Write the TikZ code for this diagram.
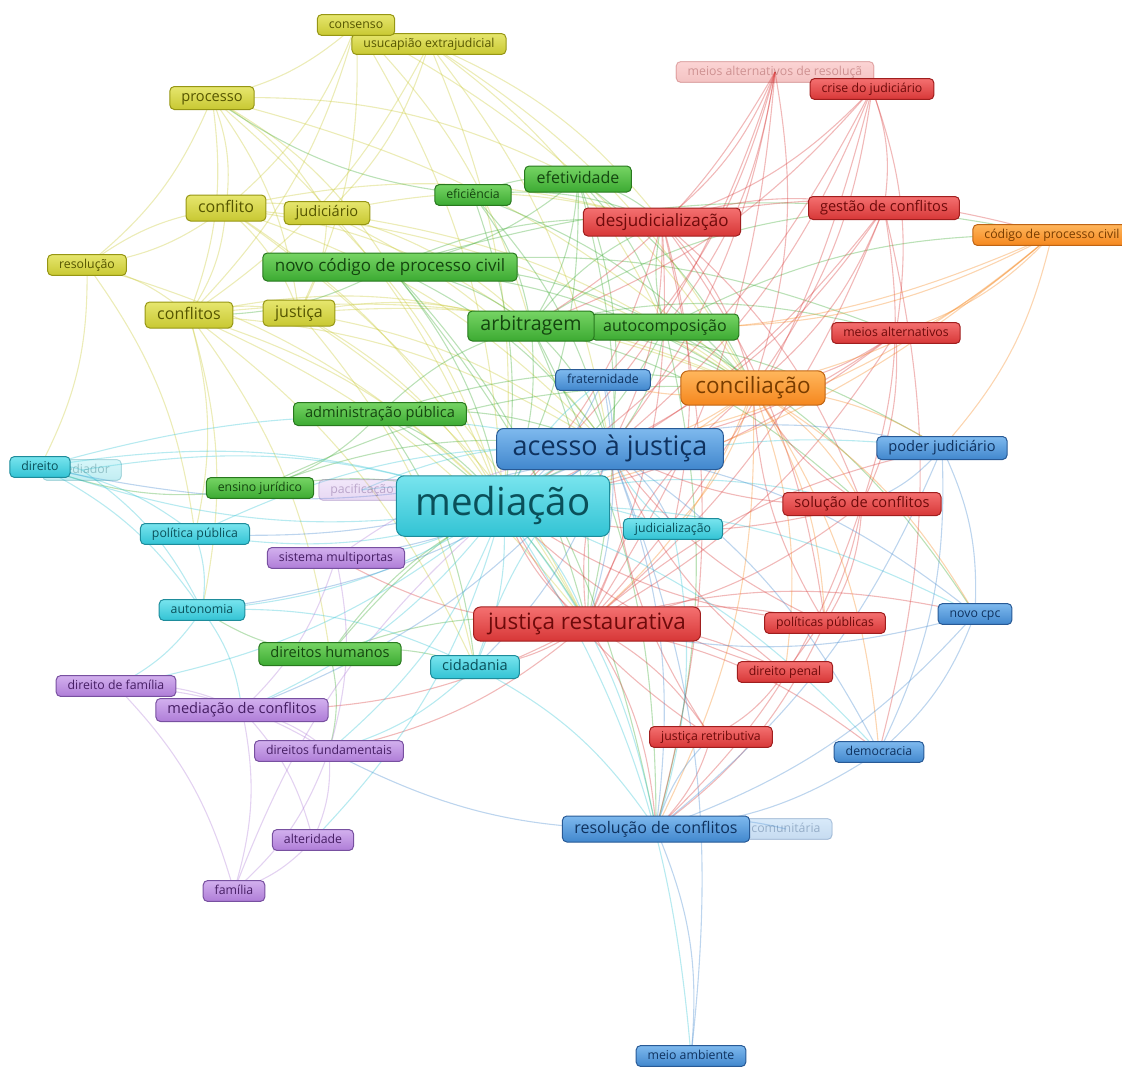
\documentclass[tikz,border=0pt]{standalone}
\usepackage{fontspec}
\setmainfont{Open Sans}
\usetikzlibrary{backgrounds}

\definecolor{ytop}{RGB}{230,230,110}
\definecolor{ybot}{RGB}{200,200,50}
\definecolor{yline}{RGB}{150,150,20}
\definecolor{ytext}{RGB}{85,85,0}
\definecolor{gtop}{RGB}{118,212,100}
\definecolor{gbot}{RGB}{60,170,50}
\definecolor{gline}{RGB}{40,120,30}
\definecolor{gtext}{RGB}{20,70,15}
\definecolor{rtop}{RGB}{244,112,112}
\definecolor{rbot}{RGB}{215,55,55}
\definecolor{rline}{RGB}{160,30,30}
\definecolor{rtext}{RGB}{110,10,10}
\definecolor{otop}{RGB}{255,182,92}
\definecolor{obot}{RGB}{245,135,30}
\definecolor{oline}{RGB}{190,100,20}
\definecolor{otext}{RGB}{120,60,0}
\definecolor{ctop}{RGB}{120,228,238}
\definecolor{cbot}{RGB}{50,195,212}
\definecolor{cline}{RGB}{30,140,155}
\definecolor{ctext}{RGB}{10,80,90}
\definecolor{btop}{RGB}{126,185,238}
\definecolor{bbot}{RGB}{65,135,205}
\definecolor{bline}{RGB}{40,90,150}
\definecolor{btext}{RGB}{15,50,95}
\definecolor{ptop}{RGB}{210,176,238}
\definecolor{pbot}{RGB}{175,125,215}
\definecolor{pline}{RGB}{120,80,160}
\definecolor{ptext}{RGB}{70,30,100}

\tikzset{
  term/.style={draw, line width=1pt, rounded corners=4.5pt},
  yel/.style={term, top color=ytop, bottom color=ybot, draw=yline, text=ytext},
  grn/.style={term, top color=gtop, bottom color=gbot, draw=gline, text=gtext},
  red/.style={term, top color=rtop, bottom color=rbot, draw=rline, text=rtext},
  org/.style={term, top color=otop, bottom color=obot, draw=oline, text=otext},
  cya/.style={term, top color=ctop, bottom color=cbot, draw=cline, text=ctext},
  blu/.style={term, top color=btop, bottom color=bbot, draw=bline, text=btext},
  pur/.style={term, top color=ptop, bottom color=pbot, draw=pline, text=ptext},
  faded/.style={opacity=0.3},
  big/.style={rounded corners=7pt},
  fa/.style={font=\fontsize{12.3}{14}\selectfont, text height=9.2pt, text depth=3.1pt, inner xsep=11.5pt, inner ysep=4.3pt},
  fb/.style={font=\fontsize{14.6}{17}\selectfont, text height=11pt, text depth=3.6pt, inner xsep=11.5pt, inner ysep=4.2pt},
  fc/.style={font=\fontsize{16}{19}\selectfont, text height=12pt, text depth=4pt, inner xsep=12pt, inner ysep=5pt},
  fd/.style={font=\fontsize{17}{20}\selectfont, text height=12.8pt, text depth=4.2pt, inner xsep=12pt, inner ysep=5.5pt},
  fe/.style={font=\fontsize{19.6}{23}\selectfont, text height=14.7pt, text depth=4.9pt, inner xsep=12.5pt, inner ysep=5.2pt},
  ff/.style={font=\fontsize{22.5}{27}\selectfont, text height=16.9pt, text depth=5.6pt, inner xsep=14.5pt, inner ysep=5.8pt},
  fg/.style={font=\fontsize{27}{32}\selectfont, text height=20.3pt, text depth=6.7pt, inner xsep=16pt, inner ysep=7pt},
  fh/.style={font=\fontsize{38.5}{45}\selectfont, text height=28.9pt, text depth=9.6pt, inner xsep=19pt, inner ysep=11pt},
  link/.style={line width=1.1pt, opacity=0.35},
  yedge/.style={link, draw=ybot},
  gedge/.style={link, draw=gbot},
  redge/.style={link, draw=rbot},
  oedge/.style={link, draw=obot},
  cedge/.style={link, draw=cbot},
  bedge/.style={link, draw=bbot},
  pedge/.style={link, draw=pbot}
}

\begin{document}
\begin{tikzpicture}[x=1pt, y=-1pt]
  \useasboundingbox (0,0) rectangle (1122,1066);

  % faded terms sit behind the others
  \node[red, faded, fa] (meiosres) at (775,72) {meios alternativos de resoluçã};
  \node[cya, faded, fa] (mediador) at (82,470) {mediador};
  \node[pur, faded, fa] (pacif) at (362,490) {pacificação};
  \node[blu, faded, fa] (comunit) at (786,829) {comunitária};

  % yellow cluster
  \node[yel, fa] (usucap) at (429,44) {usucapião extrajudicial};
  \node[yel, fa] (consenso) at (356,25) {consenso};
  \node[yel, fb] (processo) at (212,98) {processo};
  \node[yel, fc] (conflito) at (226,208) {conflito};
  \node[yel, fb] (judic) at (327,213) {judiciário};
  \node[yel, fa] (resol) at (87,265) {resolução};
  \node[yel, fc] (conflitos) at (189,315) {conflitos};
  \node[yel, fc] (justica) at (299,313) {justiça};

  % green cluster
  \node[grn, fa] (eficiencia) at (473,195) {eficiência};
  \node[grn, fc] (efetiv) at (578,179) {efetividade};
  \node[grn, fd] (ncpc) at (390,267) {novo código de processo civil};
  \node[grn, fc] (autocomp) at (665,327) {autocomposição};
  \node[grn, fe] (arbitr) at (531,326) {arbitragem};
  \node[grn, fb] (admpub) at (380,414) {administração pública};
  \node[grn, fa] (ensino) at (260,488) {ensino jurídico};
  \node[grn, fb] (dirhum) at (330,654) {direitos humanos};

  % red cluster
  \node[red, fa] (crise) at (872,89) {crise do judiciário};
  \node[red, fd] (desjud) at (662,222) {desjudicialização};
  \node[red, fb] (gestao) at (884,208) {gestão de conflitos};
  \node[red, fa] (meiosalt) at (896,333) {meios alternativos};
  \node[red, fb] (solucao) at (862,504) {solução de conflitos};
  \node[red, ff, big] (jrest) at (587,624) {justiça restaurativa};
  \node[red, fa] (polpub) at (825,623) {políticas públicas};
  \node[red, fa] (dirpenal) at (785,672) {direito penal};
  \node[red, fa] (jretrib) at (711,737) {justiça retributiva};

  % orange cluster
  \node[org, fa] (cpc) at (1052,235) {código de processo civil};
  \node[org, ff, big] (concil) at (753,388) {conciliação};

  % cyan cluster
  \node[cya, fa] (direito) at (40,467) {direito};
  \node[cya, fa] (polpublica) at (195,534) {política pública};
  \node[cya, fa] (judicz) at (673,529) {judicialização};
  \node[cya, fa] (autonomia) at (202,610) {autonomia};
  \node[cya, fb] (cidadania) at (475,667) {cidadania};

  % blue cluster
  \node[blu, fa] (fratern) at (603,380) {fraternidade};
  \node[blu, fg, big] (acesso) at (610,449) {acesso à justiça};
  \node[blu, fb] (poderjud) at (942,448) {poder judiciário};
  \node[blu, fa] (novocpc) at (975,614) {novo cpc};
  \node[blu, fa] (democ) at (879,752) {democracia};
  \node[blu, fc] (rescon) at (656,829) {resolução de conflitos};
  \node[blu, fa] (meioamb) at (691,1056) {meio ambiente};

  % purple cluster
  \node[pur, fa] (sistmulti) at (336,558) {sistema multiportas};
  \node[pur, fa] (dirfam) at (116,686) {direito de família};
  \node[pur, fb] (medconf) at (242,710) {mediação de conflitos};
  \node[pur, fa] (dirfund) at (329,751) {direitos fundamentais};
  \node[pur, fa] (alterid) at (313,840) {alteridade};
  \node[pur, fa] (familia) at (234,891) {família};

  \node[cya, fh, big, rounded corners=8pt] (mediacao) at (503,506) {mediação};

  \begin{pgfonlayer}{background}
    % links, coloured by the term they start from
    \foreach \a/\b in {consenso/conflito, consenso/processo, consenso/mediacao, consenso/conflitos, consenso/arbitr, consenso/concil, consenso/justica,
      usucap/desjud, usucap/mediacao, usucap/judic, usucap/conflitos, usucap/autocomp, usucap/concil, usucap/acesso,
      processo/conflito, processo/conflitos, processo/resol, processo/mediacao, processo/justica, processo/judic, processo/efetiv, processo/ncpc, processo/concil,
      conflito/conflitos, conflito/mediacao, conflito/judic, conflito/justica, conflito/acesso, conflito/arbitr, conflito/concil, conflito/resol, conflito/jrest, conflito/desjud,
      judic/mediacao, judic/acesso, judic/justica, judic/concil, judic/desjud, judic/arbitr,
      resol/conflitos, resol/conflito, resol/mediacao, resol/direito, resol/polpublica,
      conflitos/mediacao, conflitos/justica, conflitos/acesso, conflitos/concil, conflitos/jrest, conflitos/polpublica, conflitos/autonomia, conflitos/arbitr, conflitos/dirhum, conflitos/cidadania,
      justica/mediacao, justica/acesso, justica/jrest, justica/concil, justica/arbitr, justica/cidadania}
      \draw[yedge] (\a.center) to[bend left=14] (\b.center);
    \foreach \a/\b in {eficiencia/mediacao, eficiencia/acesso, eficiencia/efetiv, eficiencia/desjud, eficiencia/concil, eficiencia/arbitr, eficiencia/processo,
      efetiv/mediacao, efetiv/acesso, efetiv/desjud, efetiv/concil, efetiv/autocomp, efetiv/arbitr, efetiv/ncpc, efetiv/jrest,
      ncpc/mediacao, ncpc/concil, ncpc/acesso, ncpc/arbitr, ncpc/autocomp, ncpc/desjud, ncpc/meiosalt, ncpc/cpc, ncpc/rescon, ncpc/jrest, ncpc/conflitos,
      arbitr/mediacao, arbitr/concil, arbitr/acesso, arbitr/autocomp, arbitr/desjud, arbitr/meiosalt, arbitr/solucao, arbitr/rescon, arbitr/jrest, arbitr/poderjud, arbitr/gestao,
      autocomp/mediacao, autocomp/concil, autocomp/acesso, autocomp/desjud, autocomp/cpc, autocomp/rescon, autocomp/novocpc,
      admpub/mediacao, admpub/acesso, admpub/arbitr, admpub/concil, admpub/cidadania, admpub/jrest, admpub/ensino,
      ensino/mediacao, ensino/acesso, ensino/concil, ensino/direito,
      dirhum/mediacao, dirhum/jrest, dirhum/cidadania, dirhum/dirfund, dirhum/acesso, dirhum/autonomia}
      \draw[gedge] (\a.center) to[bend left=14] (\b.center);
    \foreach \a/\b in {meiosres/desjud, meiosres/concil, meiosres/arbitr, meiosres/mediacao, meiosres/acesso, meiosres/jrest, meiosres/autocomp, meiosres/fratern,
      crise/desjud, crise/concil, crise/mediacao, crise/acesso, crise/jrest, crise/arbitr, crise/meiosalt, crise/gestao,
      desjud/mediacao, desjud/concil, desjud/acesso, desjud/jrest, desjud/solucao, desjud/polpub, desjud/rescon, desjud/judicz, desjud/gestao, desjud/cpc,
      gestao/mediacao, gestao/concil, gestao/acesso, gestao/jrest, gestao/solucao, gestao/democ,
      meiosalt/mediacao, meiosalt/concil, meiosalt/acesso, meiosalt/solucao, meiosalt/jrest,
      solucao/mediacao, solucao/concil, solucao/acesso, solucao/jrest, solucao/rescon, solucao/polpub, solucao/dirpenal,
      jrest/mediacao, jrest/acesso, jrest/dirpenal, jrest/jretrib, jrest/polpub, jrest/cidadania, jrest/rescon, jrest/democ, jrest/sistmulti, jrest/medconf, jrest/dirfund, jrest/concil, jrest/novocpc, jrest/poderjud,
      polpub/mediacao, polpub/acesso, polpub/concil, polpub/rescon,
      dirpenal/mediacao, dirpenal/jretrib, dirpenal/acesso,
      jretrib/mediacao, jretrib/acesso, jretrib/rescon}
      \draw[redge] (\a.center) to[bend left=14] (\b.center);
    \foreach \a/\b in {cpc/concil, cpc/mediacao, cpc/acesso, cpc/arbitr, cpc/autocomp, cpc/poderjud, cpc/meiosalt,
      concil/mediacao, concil/acesso, concil/poderjud, concil/solucao, concil/jrest, concil/rescon, concil/novocpc, concil/judicz, concil/polpub, concil/dirpenal, concil/fratern, concil/democ}
      \draw[oedge] (\a.center) to[bend left=14] (\b.center);
    \foreach \a/\b in {direito/mediacao, direito/mediador, direito/polpublica, direito/autonomia, direito/acesso,
      mediador/mediacao, mediador/autonomia, pacif/mediacao, pacif/acesso,
      mediacao/acesso, mediacao/jrest, mediacao/rescon, mediacao/poderjud, mediacao/novocpc, mediacao/democ, mediacao/meioamb, mediacao/cidadania, mediacao/autonomia, mediacao/polpublica,
      mediacao/sistmulti, mediacao/dirfam, mediacao/medconf, mediacao/dirfund, mediacao/alterid, mediacao/judicz, mediacao/fratern, mediacao/solucao, mediacao/direito,
      polpublica/autonomia, polpublica/acesso, judicz/acesso, judicz/rescon,
      autonomia/dirfam, autonomia/cidadania, autonomia/medconf,
      cidadania/acesso, cidadania/rescon, cidadania/dirfund}
      \draw[cedge] (\a.center) to[bend left=14] (\b.center);
    \foreach \a/\b in {fratern/acesso, fratern/mediacao, fratern/jrest,
      acesso/rescon, acesso/poderjud, acesso/novocpc, acesso/democ, acesso/meioamb, acesso/cidadania, acesso/autonomia, acesso/polpublica, acesso/direito, acesso/sistmulti, acesso/medconf, acesso/judicz,
      poderjud/rescon, poderjud/novocpc, poderjud/democ, poderjud/solucao,
      novocpc/rescon, novocpc/democ, novocpc/jrest, democ/rescon,
      rescon/meioamb, rescon/comunit, rescon/dirfund, rescon/jretrib}
      \draw[bedge] (\a.center) to[bend left=14] (\b.center);
    \foreach \a/\b in {sistmulti/acesso, sistmulti/medconf, sistmulti/dirfund,
      dirfam/medconf, dirfam/familia, dirfam/dirfund,
      medconf/dirfund, medconf/familia, medconf/alterid,
      dirfund/alterid, dirfund/familia, alterid/familia, familia/mediacao}
      \draw[pedge] (\a.center) to[bend left=14] (\b.center);
  \end{pgfonlayer}
\end{tikzpicture}
\end{document}
